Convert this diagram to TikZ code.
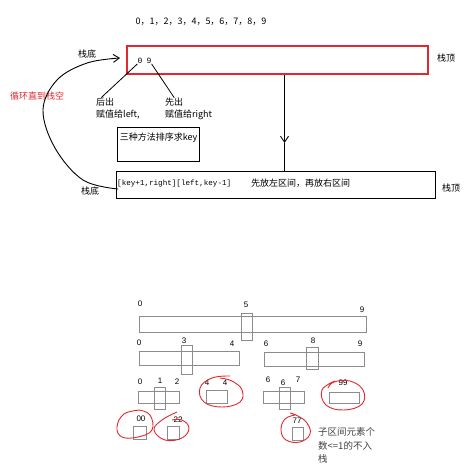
\documentclass[tikz,border=0pt]{standalone}
\usepackage{fontspec}
\setmainfont{Liberation Sans}
\newfontfamily\cjk{Noto Sans CJK SC}
\newfontfamily\mono{Liberation Mono}
\usetikzlibrary{arrows.meta}
\definecolor{barline}{HTML}{8C8C8C}
\definecolor{penred}{HTML}{E0282E}
\tikzset{
  cn/.style={inner sep=0pt,font=\cjk\fontsize{9}{11}\selectfont},
  num/.style={inner sep=0pt,font=\fontsize{8}{9}\selectfont},
  bar/.style={draw=barline,line width=0.7pt},
  loop/.style={draw=penred,line width=0.9pt},
}
\begin{document}
\begin{tikzpicture}[x=1pt,y=-1pt]
    \useasboundingbox (0,0) rectangle (474,469);
    % upper part: stack
    \node[cn] (seq) at (201,22) {0，1，2，3，4，5，6，7，8，9};
    \node[draw=penred,line width=1.3pt,minimum width=301pt,minimum height=28pt] (stk) at (277.5,60) {};
    \node[cn] (bot1) at (87,54) {栈底};
    \node[cn] (top1) at (446,58) {栈顶};
    \node[inner sep=0pt,font=\mono\fontsize{8}{9}\selectfont] (n0) at (140,61) {0};
    \node[inner sep=0pt,font=\mono\fontsize{8}{9}\selectfont] (n9) at (149,61) {9};
    \node[cn,anchor=west] (out2) at (96,102) {后出};
    \node[cn,anchor=west] (get2) at (96,115) {赋值给left,};
    \node[cn,anchor=west] (out1) at (165,102) {先出};
    \node[cn,anchor=west] (get1) at (165,115) {赋值给right};
    \node[cn,text=penred,anchor=west] (loopmsg) at (10,96) {循环直到栈空};
    \node[draw,line width=0.8pt,minimum width=82pt,minimum height=34pt] (keybox) at (158,144) {};
    \node[cn,anchor=north west] (keytxt) at ([shift={(3pt,-6pt)}]keybox.north west) {三种方法排序求key};
    \node[draw,line width=0.8pt,minimum width=319pt,minimum height=27pt] (stk2) at (275.5,184.5) {};
    \node[inner sep=0pt,anchor=west,font=\mono\fontsize{7.6}{9}\selectfont] (range) at (117,184) {[key+1,right][left,key-1]};
    \node[cn,anchor=west] (order) at (251,183) {先放左区间，再放右区间};
    \node[cn] (bot2) at (90,191) {栈底};
    \node[cn] (top2) at (451,188) {栈顶};
    \coordinate (mid) at (284.5,143);
    \coordinate (tail) at (118,189);
    \coordinate (head) at (120,58);
    \draw[line width=0.8pt] (n0.south west) -- ([xshift=-4pt]out2.north);
    \draw[line width=0.8pt] (n9.south east) -- (out1.north);
    \draw[line width=0.9pt,-{Straight Barb[length=6pt,width=8pt]}] (stk.south -| mid) -- (mid);
    \draw[line width=0.9pt] (mid) -- (stk2.north -| mid);
    \draw[line width=0.9pt,-{Straight Barb[length=6pt,width=8pt]}] plot[smooth,tension=0.6]
        coordinates {(tail) (83,180) (55,148) (43,110) (57,80) (87,63) (head)};

    % lower part: split ranges
    \begin{scope}[every node/.style={num}]
    \node (a0) at (140,304) {0};
    \node (a5) at (246,305) {5};
    \node (a9) at (362,310) {9};
    \node (b0) at (139,343) {0};
    \node (b3) at (184,341) {3};
    \node (b4) at (232,344) {4};
    \node (c6) at (266,344) {6};
    \node (c8) at (313,341) {8};
    \node (c9) at (360,344) {9};
    \node (d0) at (140,382) {0};
    \node (d1) at (160,381) {1};
    \node (d2) at (177,382) {2};
    \node (e4) at (207,383) {4};
    \node (f4) at (225,383) {4};
    \node (g6) at (268,380) {6};
    \node (h6) at (283,383) {6};
    \node (g7) at (298,380) {7};
    \node (k99) at (343,383) {99};
    \node (k00) at (141,419) {00};
    \node (k22) at (178,420) {22};
    \node (k77) at (297,421) {77};
    \end{scope}
    \begin{scope}[every path/.style={bar}]
    \draw (139,316) rectangle (366,332);
    \draw (241,313) rectangle (252,340);
    \draw (139,351) rectangle (239,365);
    \draw (181,345) rectangle (192,374);
    \draw (264,352) rectangle (364,366);
    \draw (306,347) rectangle (318,369);
    \draw (138,391) rectangle (179,403);
    \draw (154,387) rectangle (165,409);
    \draw (206,390) rectangle (227,403);
    \draw (263,391) rectangle (304,403);
    \draw (279,387) rectangle (290,409);
    \draw (329,392) rectangle (359,403);
    \draw (133,426) rectangle (146,439);
    \draw (167,426) rectangle (179,439);
    \draw (292,427) rectangle (303,440);
    \end{scope}
    % hand drawn loops
    \begin{scope}[every path/.style={loop}]
    \draw plot[smooth,tension=0.7] coordinates {(230,376) (212,378) (200,388) (204,402) (222,407) (240,402) (242,390) (232,381) (220,378)};
    \draw plot[smooth,tension=0.7] coordinates {(335,381) (322,390) (326,405) (344,410) (362,404) (363,390) (350,381) (334,382) (328,388)};
    \draw plot[smooth,tension=0.7] coordinates {(140,410) (124,414) (117,427) (122,437) (138,437) (152,430) (150,415) (139,410)};
    \draw plot[smooth,tension=0.7] coordinates {(177,412) (162,420) (154,430) (165,440) (182,438) (189,428) (182,420) (172,420)};
    \draw plot[smooth,tension=0.7] coordinates {(290,413) (298,416) (307,423) (310,434) (300,442) (286,440) (281,430) (285,419) (295,415)};
    \end{scope}
    \node[cn,text=black!75,anchor=west,font=\cjk\fontsize{9.5}{11}\selectfont] (note1) at (318,432) {子区间元素个};
    \node[cn,text=black!75,anchor=west,font=\cjk\fontsize{9.5}{11}\selectfont] (note2) at (318,446) {数<=1的不入};
    \node[cn,text=black!75,anchor=west,font=\cjk\fontsize{9.5}{11}\selectfont] (note3) at (318,459) {栈};
\end{tikzpicture}
\end{document}
